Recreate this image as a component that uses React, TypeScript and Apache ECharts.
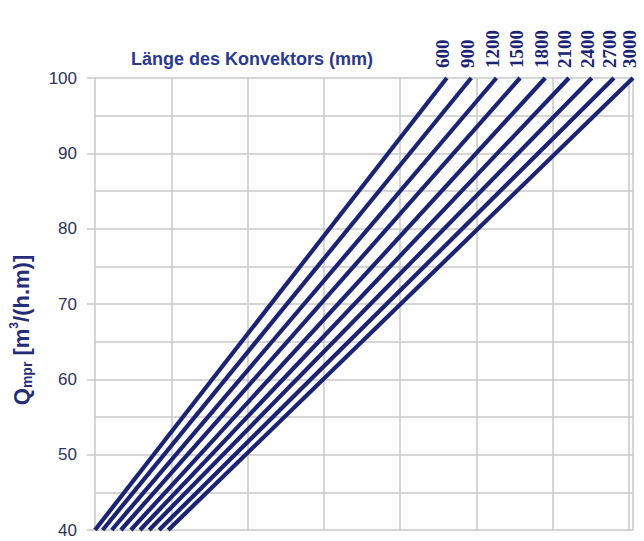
import React, { useEffect, useRef } from "react";
import * as echarts from "echarts";

// Convector length labels (mm), one line per length
const lengths = ["600", "900", "1200", "1500", "1800", "2100", "2400", "2700", "3000"];
// x position (grid-column units) where each line crosses Q = 40 and Q = 100
const xAtQ40 = [0.0, 0.1, 0.22, 0.34, 0.47, 0.59, 0.71, 0.84, 0.96];
const xAtQ100 = [4.61, 4.93, 5.26, 5.57, 5.9, 6.21, 6.51, 6.8, 7.05];
const qMin = 40;
const qMax = 100;
const xMax = 7.05;

const titleText = "Länge des Konvektors (mm)";
const navy = "#1c2372";
const gridColor = "#c8c8c8";
const sans = "Liberation Sans, Arial, sans-serif";

export default function App() {
  const ref = useRef<HTMLDivElement>(null);
  useEffect(() => {
    if (!ref.current) return;
    const chart = echarts.init(ref.current, null, { renderer: "svg" });
    const series = lengths.map((name, i) => ({
      type: "line",
      name,
      data: [
        [xAtQ40[i], qMin],
        [xAtQ100[i], qMax],
      ],
      symbol: "none",
      lineStyle: { color: navy, width: 4.2 },
      z: 5,
    }));
    const title = {
      type: "text",
      x: 252,
      y: 59,
      style: {
        text: titleText,
        fontSize: 18,
        fontWeight: "bold",
        fontFamily: sans,
        fill: "#2a3990",
        align: "center",
        verticalAlign: "middle",
      },
    };
    chart.setOption({
      animation: false,
      grid: {
        left: 95,
        right: 11,
        top: 78,
        bottom: 11,
        containLabel: false,
        outerBoundsMode: "none",
      },
      xAxis: {
        type: "value",
        min: 0,
        max: xMax,
        interval: 1,
        axisLine: { show: false },
        axisTick: { show: false },
        axisLabel: { show: false },
        splitLine: { show: true, lineStyle: { color: gridColor, width: 1.5 } },
      },
      yAxis: {
        type: "value",
        min: qMin,
        max: qMax,
        interval: 10,
        axisLine: { show: false },
        axisTick: { show: true, length: 8, lineStyle: { color: gridColor, width: 1.5 } },
        minorTick: { show: false, splitNumber: 2 },
        minorSplitLine: { show: true, lineStyle: { color: gridColor, width: 1.5 } },
        splitLine: { show: true, lineStyle: { color: gridColor, width: 1.5 } },
        axisLabel: {
          margin: 18,
          fontSize: 17,
          fontFamily: sans,
          color: "#2e335e",
        },
        name: "{q|Q}{s|mpr}{q| [m}{p|3}{q|/(h.m)]}",
        nameLocation: "middle",
        nameRotate: 90,
        nameGap: 61,
        nameTextStyle: {
          padding: [0, 52, 0, 0],
          rich: {
            q: {
              fontSize: 22,
              fontWeight: "bold",
              color: "#262d78",
              fontFamily: sans,
              lineHeight: 26,
            },
            s: {
              fontSize: 14,
              fontWeight: "bold",
              color: "#262d78",
              fontFamily: sans,
              verticalAlign: "bottom",
              lineHeight: 26,
              padding: [9, 0, 0, 0],
            },
            p: {
              fontSize: 12,
              fontWeight: "bold",
              color: "#262d78",
              fontFamily: sans,
              verticalAlign: "top",
              lineHeight: 26,
              padding: [0, 0, 9, 0],
            },
          },
        },
      },
      graphic: [title],
      series,
    });

    const labelGraphics = lengths.map((name, i) => {
      const p = chart.convertToPixel({ xAxisIndex: 0, yAxisIndex: 0 }, [xAtQ100[i], qMax]) as number[];
      return {
        type: "text",
        x: p[0] - 4,
        y: 68,
        rotation: Math.PI / 2,
        style: {
          text: name,
          fontSize: 19,
          fontWeight: "bold",
          fontFamily: "Liberation Serif, Times New Roman, serif",
          fill: navy,
          align: "left",
          verticalAlign: "middle",
        },
      };
    });
    chart.setOption({ graphic: [title, ...labelGraphics] });
    return () => chart.dispose();
  }, []);
  return (
    <div
      ref={ref}
      style={{ position: "fixed", left: 0, top: 0, width: 644, height: 541, background: "#fff" }}
    />
  );
}
